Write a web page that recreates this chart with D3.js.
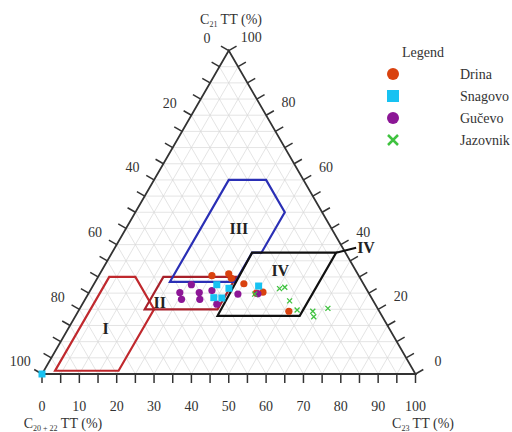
<!DOCTYPE html>
<html>
<head>
<meta charset="utf-8">
<script src="https://cdn.jsdelivr.net/npm/d3@7"></script>
<style>
  body { margin: 0; background: #fff; }
</style>
</head>
<body>
<div id="chart"></div>
<script>
// points are [C21 TT %, C23 TT %]; C20+22 is the rest
const drina = [[30.4, 30.3], [31, 34.5], [29.6, 35.9], [27.9, 40.1], [25, 44.9], [25.3, 46.5], [19.4, 56.4]];
const snagovo = [[27.6, 33], [23.6, 34.2], [23.5, 36.4], [26.5, 36.8], [27.2, 44.4], [0, 0]];
const gucevo = [[25.2, 24.3], [23.1, 25.8], [27.6, 26.2], [25.2, 29.5], [23.1, 30.7], [25.8, 32.6], [21.6, 36], [24.7, 40.1], [24.8, 45.4]];
const jazovnik = [[26.4, 50.4], [26.8, 51.6], [22.6, 55], [19.8, 58.4], [19.4, 62.8], [17.7, 63.9], [20.3, 66.4], [24.7, 44.6]];

// genetic fields
const fieldI = [[30, 3], [30, 10], [20, 20], [1, 20], [1, 3]];
const fieldII = [[30, 17.5], [30, 37], [20, 37], [20, 17.5]];
const fieldIII = [[60, 20], [60, 30], [50, 40], [37.5, 40], [37.5, 37.5], [28.5, 37.5], [28.5, 20]];
const fieldIV = [[37.5, 37.5], [37.5, 60], [18, 60], [18, 38]];

const bottomTicks = d3.range(0, 101, 10);
const sideTicks = d3.range(0, 101, 20);

const width = 512, height = 432;
const x0 = 42, yB = 374, side = 373.5;
const h = side * Math.sqrt(3) / 2;
const serif = "'Liberation Serif', 'Times New Roman', 'DejaVu Serif', serif";

const sx = d3.scaleLinear().domain([0, 100]).range([0, side]);
const sy = d3.scaleLinear().domain([0, 100]).range([yB, yB - h]);

// a = C21, b = C23
function proj(a, b) {
  return [x0 + sx(b + a / 2), sy(a)];
}

const svg = d3.select("#chart").append("svg")
  .attr("width", width)
  .attr("height", height)
  .style("font-family", serif);

// grid lines every 5 %
const grid = svg.append("g").attr("stroke", "#d9d9d9").attr("stroke-width", 0.7);
d3.range(5, 100, 5).forEach(k => {
  const segs = [
    [proj(k, 0), proj(k, 100 - k)],
    [proj(0, k), proj(100 - k, k)],
    [proj(0, 100 - k), proj(100 - k, 0)]
  ];
  segs.forEach(s => {
    grid.append("line")
      .attr("x1", s[0][0]).attr("y1", s[0][1])
      .attr("x2", s[1][0]).attr("y2", s[1][1]);
  });
});

// triangle outline
const tri = [proj(0, 0), proj(0, 100), proj(100, 0)];
svg.append("path")
  .attr("d", d3.line()(tri) + "Z")
  .attr("fill", "none")
  .attr("stroke", "#333")
  .attr("stroke-width", 1.8);

// ticks
const tickLen = 9;
const c30 = Math.cos(Math.PI / 6), s30 = 0.5;
const ticks = svg.append("g").attr("stroke", "#333").attr("stroke-width", 1.5);
d3.range(0, 101, 5).forEach(v => {
  const pb = proj(0, v);
  ticks.append("line").attr("x1", pb[0]).attr("y1", pb[1]).attr("x2", pb[0]).attr("y2", pb[1] + tickLen);
  const pl = proj(v, 0);
  ticks.append("line").attr("x1", pl[0]).attr("y1", pl[1]).attr("x2", pl[0] - c30 * tickLen).attr("y2", pl[1] - s30 * tickLen);
  const pr = proj(v, 100 - v);
  ticks.append("line").attr("x1", pr[0]).attr("y1", pr[1]).attr("x2", pr[0] + c30 * tickLen).attr("y2", pr[1] - s30 * tickLen);
});

// tick labels
const labels = svg.append("g").attr("font-size", 14).attr("text-anchor", "middle").attr("fill", "#333");
bottomTicks.forEach(v => {
  const p = proj(0, v);
  labels.append("text").attr("x", p[0]).attr("y", p[1] + 32).attr("dy", "0.35em").text(v);
});
sideTicks.forEach(v => {
  // left axis: C20+22, 0 at apex
  const pl = proj(100 - v, 0);
  labels.append("text").attr("x", pl[0] - c30 * 25).attr("y", pl[1] - s30 * 25).attr("dy", "0.35em").text(v);
  // right axis: C21, 0 at bottom
  const pr = proj(v, 100 - v);
  labels.append("text").attr("x", pr[0] + c30 * 26).attr("y", pr[1] - s30 * 26).attr("dy", "0.35em").text(v);
});

// axis titles with subscripts
function axisTitle(x, y, sub) {
  const t = svg.append("text").attr("x", x).attr("y", y).attr("font-size", 14)
    .attr("text-anchor", "middle").attr("fill", "#333");
  t.append("tspan").text("C");
  t.append("tspan").attr("font-size", 8).attr("dy", 3).text(sub);
  t.append("tspan").attr("dy", -3).text(" TT (%)");
}
axisTitle(231, 24, "21");
axisTitle(63, 428, "20 + 22");
axisTitle(423, 428, "23");

// genetic field outlines
const line = d3.line().x(d => proj(d[0], d[1])[0]).y(d => proj(d[0], d[1])[1]).curve(d3.curveLinearClosed);
const fields = [
  { pts: fieldI, color: "#c0282d" },
  { pts: fieldII, color: "#a8202a" },
  { pts: fieldIII, color: "#2a2fb5" },
  { pts: fieldIV, color: "#111" }
];
fields.forEach(f => {
  svg.append("path")
    .attr("d", line(f.pts))
    .attr("fill", "none")
    .attr("stroke", f.color)
    .attr("stroke-width", 2.2)
    .attr("stroke-linejoin", "miter");
});

// pointer to field IV label
const pIV = proj(37.5, 60);
svg.append("line")
  .attr("x1", pIV[0]).attr("y1", pIV[1])
  .attr("x2", pIV[0] + 20).attr("y2", pIV[1] - 5)
  .attr("stroke", "#111").attr("stroke-width", 2);

const fieldLabels = [
  { t: "I", a: 14, b: 10 },
  { t: "II", a: 22, b: 20.5 },
  { t: "III", a: 45, b: 30.2 },
  { t: "IV", a: 32, b: 47.8 }
];
fieldLabels.forEach(l => {
  const p = proj(l.a, l.b);
  svg.append("text").attr("x", p[0]).attr("y", p[1]).attr("dy", "0.35em")
    .attr("text-anchor", "middle").attr("font-size", 16).attr("font-weight", "bold")
    .attr("fill", "#222").text(l.t);
});
svg.append("text").attr("x", pIV[0] + 21).attr("y", pIV[1] - 5).attr("dy", "0.35em")
  .attr("font-size", 16).attr("font-weight", "bold").attr("fill", "#222").text("IV");

// data points
const colors = { drina: "#d9420f", snagovo: "#17c2f2", gucevo: "#8c1696", jazovnik: "#3fc23f" };
const pts = svg.append("g");
drina.forEach(d => {
  const p = proj(d[0], d[1]);
  pts.append("circle").attr("cx", p[0]).attr("cy", p[1]).attr("r", 3.6).attr("fill", colors.drina);
});
gucevo.forEach(d => {
  const p = proj(d[0], d[1]);
  pts.append("circle").attr("cx", p[0]).attr("cy", p[1]).attr("r", 3.6).attr("fill", colors.gucevo);
});
snagovo.forEach(d => {
  const p = proj(d[0], d[1]);
  pts.append("rect").attr("x", p[0] - 3.5).attr("y", p[1] - 3.5).attr("width", 7).attr("height", 7).attr("fill", colors.snagovo);
});
jazovnik.forEach(d => {
  const p = proj(d[0], d[1]);
  pts.append("path").attr("d", `M${p[0] - 2.5},${p[1] - 2.5}L${p[0] + 2.5},${p[1] + 2.5}M${p[0] - 2.5},${p[1] + 2.5}L${p[0] + 2.5},${p[1] - 2.5}`)
    .attr("stroke", colors.jazovnik).attr("stroke-width", 1.3).attr("fill", "none");
});

// legend
const legend = svg.append("g");
legend.append("text").attr("x", 423).attr("y", 52).attr("dy", "0.35em").attr("text-anchor", "middle")
  .attr("font-size", 14).attr("fill", "#333").text("Legend");
const legendItems = [
  { name: "Drina", key: "drina", shape: "circle" },
  { name: "Snagovo", key: "snagovo", shape: "square" },
  { name: "Gučevo", key: "gucevo", shape: "circle" },
  { name: "Jazovnik", key: "jazovnik", shape: "cross" }
];
legendItems.forEach((d, i) => {
  const y = 74 + i * 22;
  if (d.shape === "circle") {
    legend.append("circle").attr("cx", 393).attr("cy", y).attr("r", 6).attr("fill", colors[d.key]);
  } else if (d.shape === "square") {
    legend.append("rect").attr("x", 387).attr("y", y - 6).attr("width", 12).attr("height", 12).attr("fill", colors[d.key]);
  } else {
    legend.append("path").attr("d", `M388,${y - 5}L398,${y + 5}M388,${y + 5}L398,${y - 5}`)
      .attr("stroke", colors[d.key]).attr("stroke-width", 2.5);
  }
  legend.append("text").attr("x", 460).attr("y", y).attr("dy", "0.35em").attr("font-size", 14)
    .attr("fill", "#333").text(d.name);
});
</script>
</body>
</html>
